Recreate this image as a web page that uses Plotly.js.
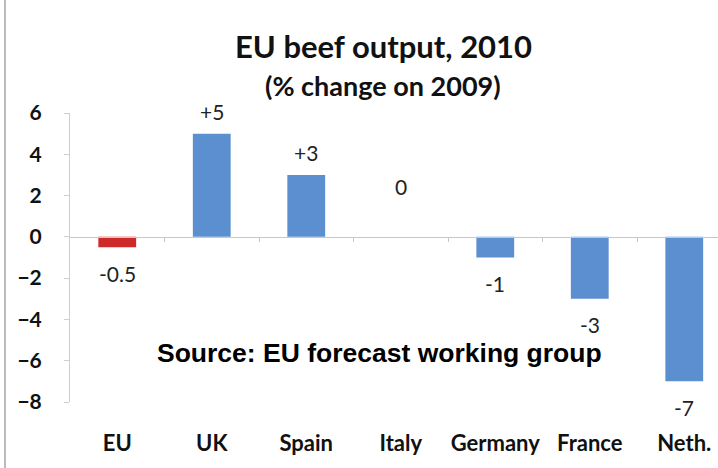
<!DOCTYPE html>
<html><head><meta charset="utf-8">
<script src="https://cdn.plot.ly/plotly-3.0.1.min.js"></script>
<style>html,body{margin:0;padding:0;background:#fff}#chart{width:718px;height:468px}</style>
</head><body><div id="chart"></div>
<script>
const categories = ["EU", "UK", "Spain", "Italy", "Germany", "France", "Neth."];
const values = [-0.5, 5, 3, 0, -1, -3, -7];
const valueLabels = ["-0.5", "+5", "+3", "0", "-1", "-3", "-7"];
const barColors = ["#cf2a2a", "#5b8fd0", "#5b8fd0", "#5b8fd0", "#5b8fd0", "#5b8fd0", "#5b8fd0"];
const yTicks = [-8, -6, -4, -2, 0, 2, 4, 6];

const idx = categories.map((c, i) => i);
const boundaries = idx.slice(0, -1).map(i => i + 0.5);
const xRange = [-0.5, 6.357];

const labelFont = {family: "Lato, 'Open Sans', sans-serif", size: 21, color: "#222"};
const annotations = values.map((v, i) => ({
  x: i, y: v, xref: "x", yref: "y",
  text: valueLabels[i], showarrow: false, font: labelFont,
  yshift: v > 0 ? 22 : (v === 0 ? 50 : -26)
}));
annotations.push(
  {xref: "paper", yref: "paper", x: (383 - 70) / 648, y: 1, yshift: 67, yanchor: "middle",
   text: "<b>EU beef output, 2010</b>", showarrow: false,
   font: {family: "Lato, sans-serif", size: 31, color: "#111"}},
  {xref: "paper", yref: "paper", x: (383 - 70) / 648, y: 1, yshift: 28, yanchor: "middle",
   text: "<b>(% change on 2009)</b>", showarrow: false,
   font: {family: "Lato, sans-serif", size: 27, color: "#111"}},
  {xref: "paper", yref: "paper", x: (379 - 70) / 648, y: (402 - 353) / 289, yanchor: "middle",
   text: "<b>Source: EU forecast working group</b>", showarrow: false,
   font: {family: "'Liberation Sans', Arial, sans-serif", size: 26.5, color: "#000"}}
);

const trace = {
  type: "bar", x: idx, y: values,
  marker: {color: barColors, line: {width: 0}},
  hoverinfo: "skip"
};

const layout = {
  width: 718, height: 468,
  margin: {l: 70, r: 0, t: 113, b: 66},
  paper_bgcolor: "#fff", plot_bgcolor: "#fff",
  showlegend: false,
  bargap: 0.6,
  xaxis: {
    range: xRange, tickvals: idx, ticktext: categories,
    showgrid: false, zeroline: false, showline: false, ticks: "",
    ticklabelstandoff: 26,
    tickfont: {family: "Lato, sans-serif", size: 22, color: "#111", weight: "bold"}
  },
  xaxis2: {
    overlaying: "x", anchor: "free", position: 8 / 14, side: "bottom",
    range: xRange, tickvals: boundaries, showticklabels: false,
    ticks: "outside", ticklen: 4, tickcolor: "#c8c8c8",
    showline: true, linecolor: "#c8c8c8", linewidth: 1,
    showgrid: false, zeroline: false
  },
  yaxis: {
    range: [-8, 6], tickvals: yTicks,
    showgrid: false, zeroline: false,
    showline: true, linecolor: "#cfcfcf", linewidth: 1,
    ticks: "outside", ticklen: 5, tickcolor: "#cfcfcf",
    ticklabelstandoff: 18,
    tickfont: {family: "Lato, sans-serif", size: 21, color: "#111", weight: "bold"}
  },
  shapes: [
    {type: "line", xref: "paper", yref: "paper", x0: (5 - 70) / 648, x1: (5 - 70) / 648,
     y0: -0.3, y1: 1.5, line: {color: "#bbb", width: 2}}
  ],
  annotations: annotations
};

const dummy = {type: "scatter", x: [], y: [], xaxis: "x2", hoverinfo: "skip"};
Plotly.newPlot("chart", [trace, dummy], layout, {staticPlot: true, displayModeBar: false});
</script></body></html>
